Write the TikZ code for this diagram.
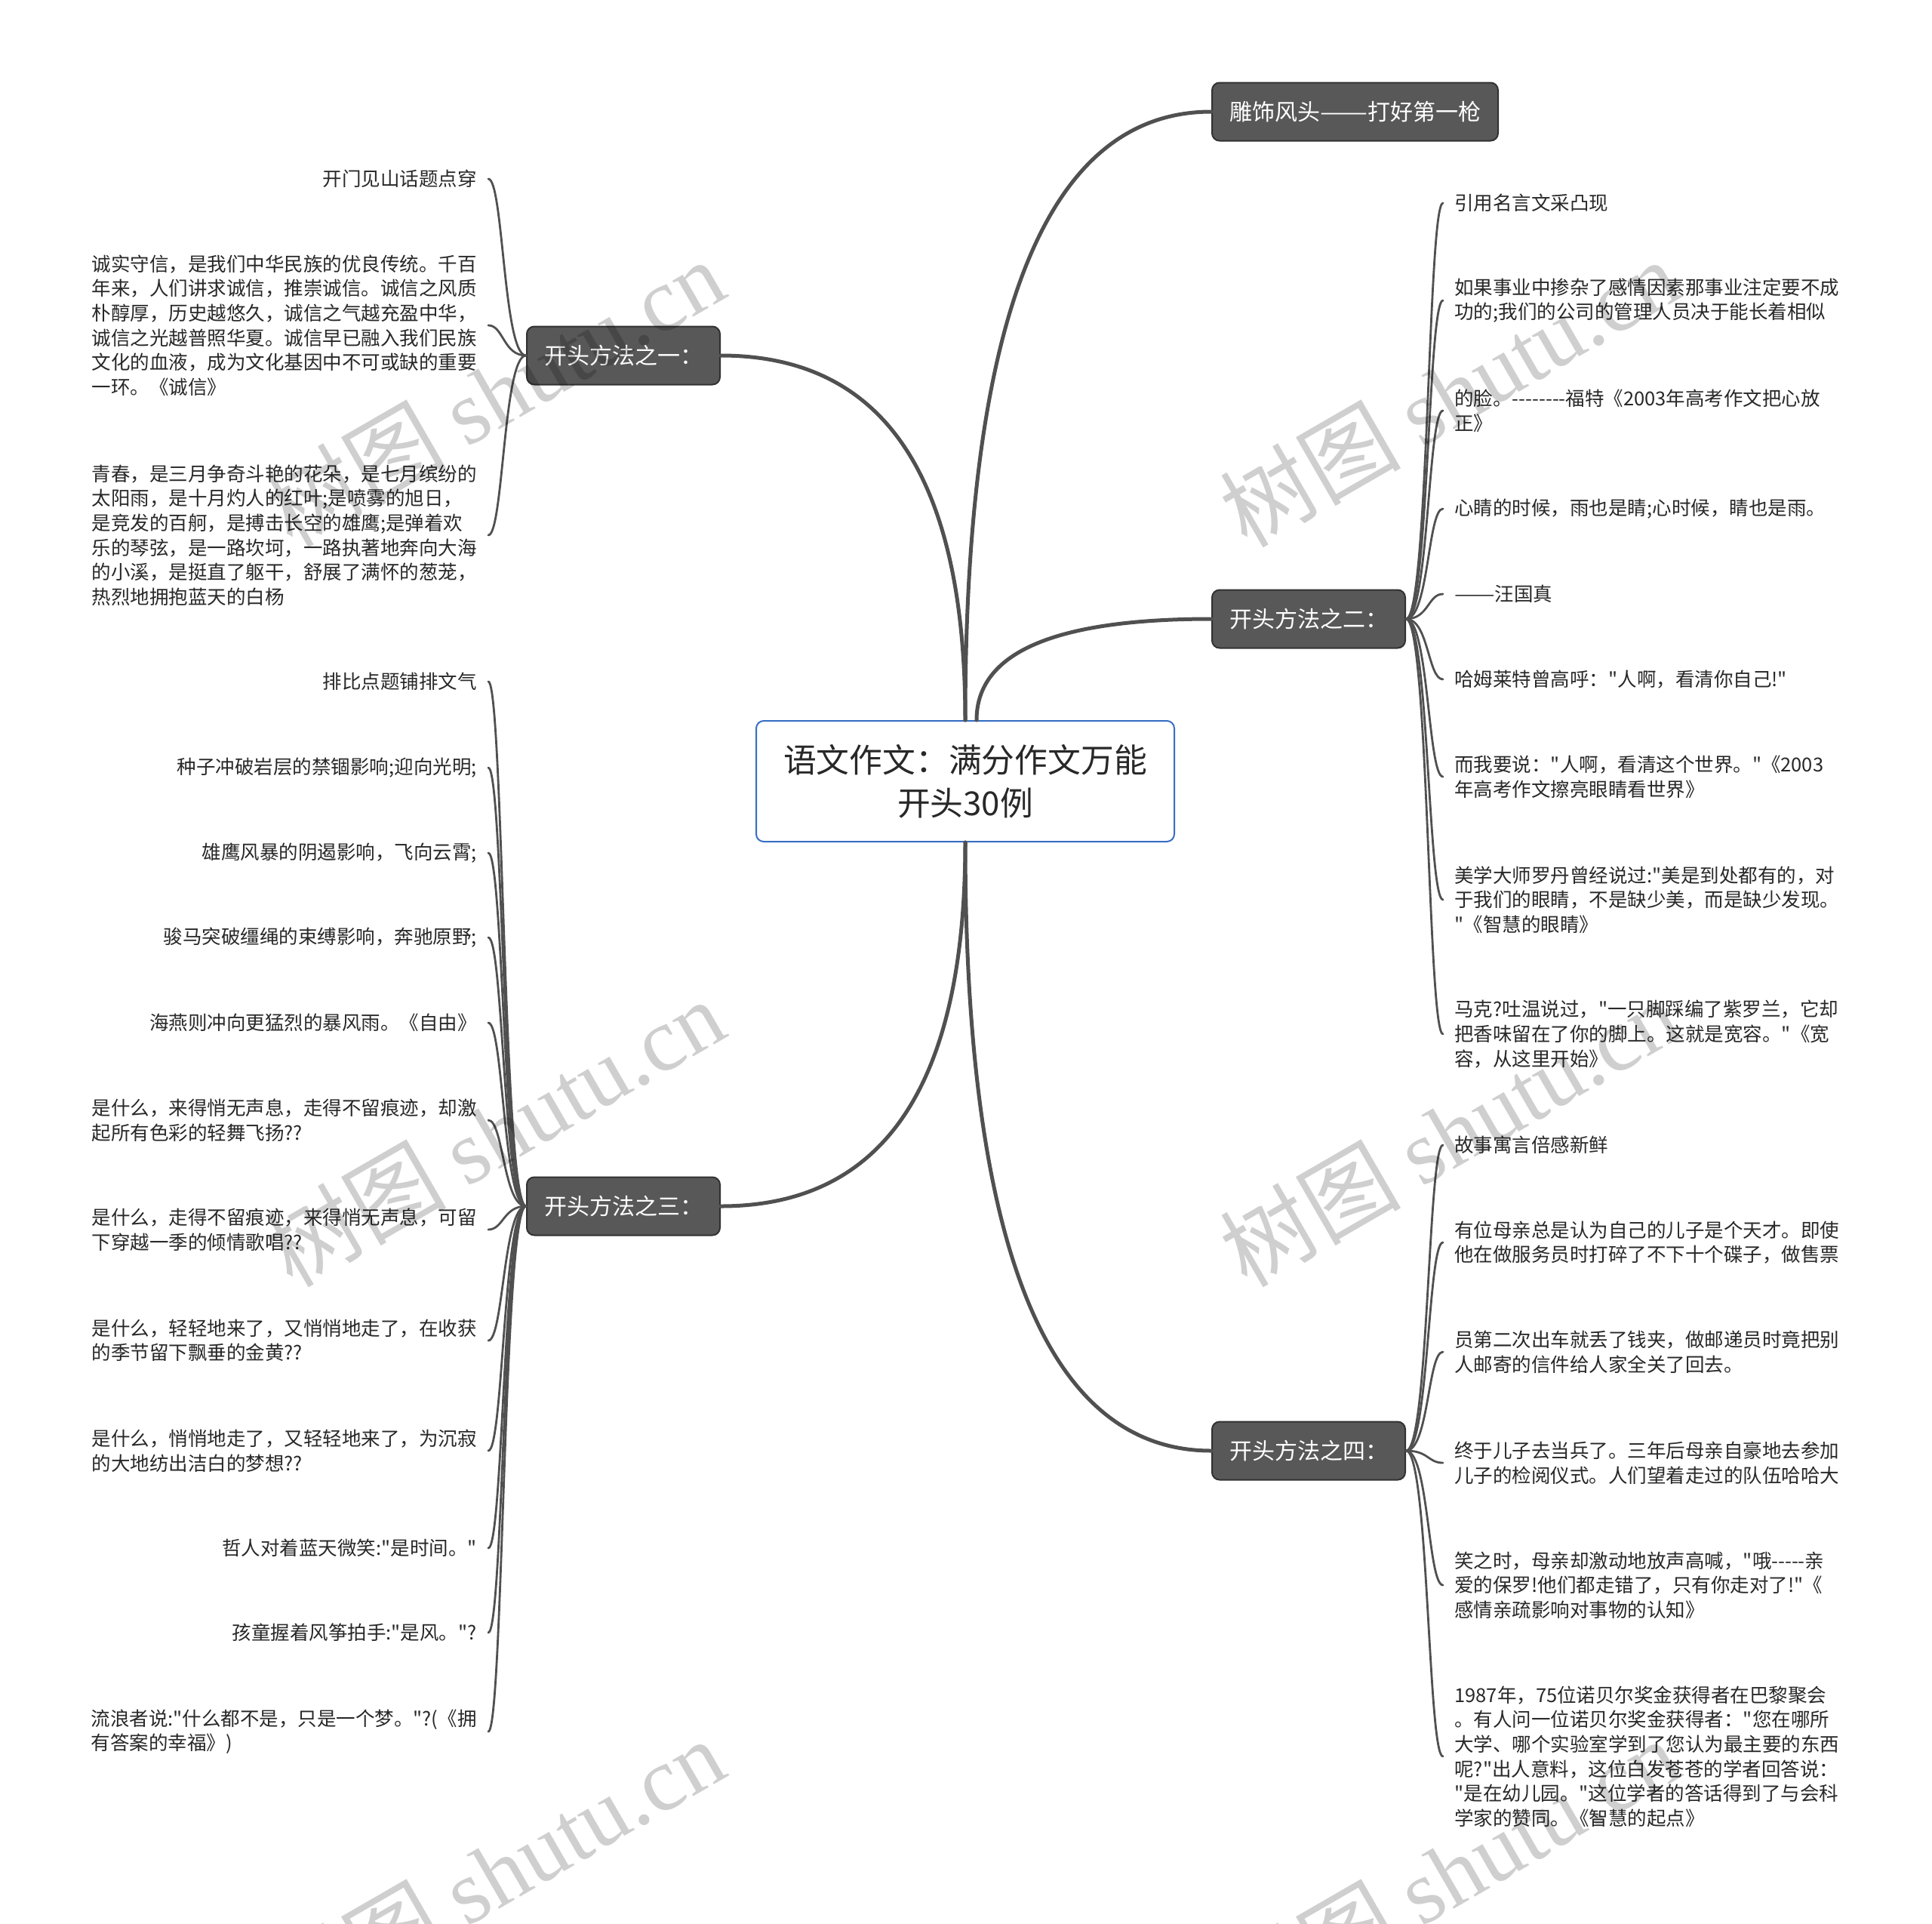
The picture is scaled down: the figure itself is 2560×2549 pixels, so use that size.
\documentclass[tikz,border=0pt]{standalone}
\usepackage{fontspec}
\newfontfamily\cjk{Noto Sans CJK SC}
\newfontfamily\wmfont{Liberation Serif}
\definecolor{qline}{RGB}{80,80,80}
\definecolor{qbox}{RGB}{88,88,88}
\definecolor{qedge}{RGB}{50,50,50}
\definecolor{qblue}{RGB}{55,110,195}
\definecolor{qtext}{RGB}{40,40,40}
\newcommand\cndash{\resizebox{2.1em}{\height}{——}}
\tikzset{
  root/.style={draw=qblue, line width=1pt, fill=white, rounded corners=5pt, text=qtext,
    font=\cjk\fontsize{21.9pt}{28.5pt}\selectfont, align=center,
    minimum width=277pt, minimum height=80pt},
  branch/.style={draw=qedge, line width=1pt, fill=qbox, rounded corners=5pt, text=white,
    font=\cjk\fontsize{15pt}{18pt}\selectfont, inner xsep=11.5pt, minimum height=38.5pt},
  leaf/.style={text=qtext, font=\cjk\fontsize{12.75pt}{16.3pt}\selectfont,
    align=left, inner xsep=7.5pt, inner ysep=1pt},
  limb/.style={draw=qline, line width=2.5pt, line cap=round},
  twig/.style={draw=qline, line width=1.4pt, line cap=round},
  wmark/.style={text=black, text opacity=0.19, rotate=30,
    font=\cjk\fontsize{60pt}{60pt}\selectfont}
}
\begin{document}
\begin{tikzpicture}[x=0.5pt, y=-0.5pt]
\fill[white] (0,0) rectangle (2560,2549);
\useasboundingbox (0,0) rectangle (2560,2549);

%centre and main branches
\node[root] (root) at (1279,1035) {语文作文：满分作文万能\\开头30例};
\node[branch, anchor=west] (head) at (1605,148) {雕饰风头\cndash 打好第一枪};
\node[branch, anchor=west] (way2) at (1605,820) {开头方法之二：};
\node[branch, anchor=west] (way4) at (1605,1922) {开头方法之四：};
\node[branch, anchor=east] (way1) at (955,471) {开头方法之一：};
\node[branch, anchor=east] (way3) at (955,1598) {开头方法之三：};

\draw[limb] (root.north) .. controls +(0,-538) and +(-217,0) .. (head.west);
\draw[limb] (root.north) .. controls +(0,-323) and +(216,0) .. (way1.east);
\draw[limb] ([xshift=7.5pt]root.north) .. controls +(0,-90) and +(-207,0) .. (way2.west);
\draw[limb] (root.south) .. controls +(0,322) and +(216,0) .. (way3.east);
\draw[limb] (root.south) .. controls +(0,538) and +(-217,0) .. (way4.west);

%right leaves
\foreach \yy/\txt [count=\i] in {
  269/{引用名言文采凸现},
  398/{如果事业中掺杂了感情因素那事业注定要不成\\功的;我们的公司的管理人员决于能长着相似},
  544/{的脸。--------福特《2003年高考作文把心放\\正》},
  674/{心睛的时候，雨也是睛;心时候，睛也是雨。},
  787/{\cndash 汪国真},
  900/{哈姆莱特曾高呼："人啊，看清你自己!"},
  1029/{而我要说："人啊，看清这个世界。"《2003\\年高考作文擦亮眼睛看世界》},
  1192/{美学大师罗丹曾经说过:"美是到处都有的，对\\于我们的眼睛，不是缺少美，而是缺少发现。\\"《智慧的眼睛》},
  1370/{马克?吐温说过，"一只脚踩编了紫罗兰，它却\\把香味留在了你的脚上。这就是宽容。"《宽\\容，从这里开始》}}{
  \node[leaf, anchor=west] (two\i) at (1912,\yy) {\txt};
  \draw[twig] (way2.east) .. controls +(30,0) and +(-20,0) .. (two\i.west);
}
\foreach \yy/\txt [count=\i] in {
  1517/{故事寓言倍感新鲜},
  1646/{有位母亲总是认为自己的儿子是个天才。即使\\他在做服务员时打碎了不下十个碟子，做售票},
  1791/{员第二次出车就丢了钱夹，做邮递员时竟把别\\人邮寄的信件给人家全关了回去。},
  1938/{终于儿子去当兵了。三年后母亲自豪地去参加\\儿子的检阅仪式。人们望着走过的队伍哈哈大},
  2100/{笑之时，母亲却激动地放声高喊，"哦-----亲\\爱的保罗!他们都走错了，只有你走对了!"《\\感情亲疏影响对事物的认知》},
  2327/{1987年，75位诺贝尔奖金获得者在巴黎聚会\\。有人问一位诺贝尔奖金获得者："您在哪所\\大学、哪个实验室学到了您认为最主要的东西\\呢?"出人意料，这位白发苍苍的学者回答说：\\"是在幼儿园。"这位学者的答话得到了与会科\\学家的赞同。《智慧的起点》}}{
  \node[leaf, anchor=west] (four\i) at (1912,\yy) {\txt};
  \draw[twig] (way4.east) .. controls +(30,0) and +(-20,0) .. (four\i.west);
}

%left leaves
\foreach \yy/\txt [count=\i] in {
  237/{开门见山话题点穿},
  431/{诚实守信，是我们中华民族的优良传统。千百\\年来，人们讲求诚信，推崇诚信。诚信之风质\\朴醇厚，历史越悠久，诚信之气越充盈中华，\\诚信之光越普照华夏。诚信早已融入我们民族\\文化的血液，成为文化基因中不可或缺的重要\\一环。《诚信》},
  709/{青春，是三月争奇斗艳的花朵，是七月缤纷的\\太阳雨，是十月灼人的红叶;是喷雾的旭日，\\是竞发的百舸，是搏击长空的雄鹰;是弹着欢\\乐的琴弦，是一路坎坷，一路执著地奔向大海\\的小溪，是挺直了躯干，舒展了满怀的葱茏，\\热烈地拥抱蓝天的白杨}}{
  \node[leaf, anchor=east] (one\i) at (647,\yy) {\txt};
  \draw[twig] (way1.west) .. controls +(-30,0) and +(20,0) .. (one\i.east);
}
\foreach \yy/\txt [count=\i] in {
  903/{排比点题铺排文气},
  1017/{种子冲破岩层的禁锢影响;迎向光明;},
  1130/{雄鹰风暴的阴遏影响，飞向云霄;},
  1242/{骏马突破缰绳的束缚影响，奔驰原野;},
  1355/{海燕则冲向更猛烈的暴风雨。《自由》},
  1484/{是什么，来得悄无声息，走得不留痕迹，却激\\起所有色彩的轻舞飞扬??},
  1629/{是什么，走得不留痕迹，来得悄无声息，可留\\下穿越一季的倾情歌唱??},
  1776/{是什么，轻轻地来了，又悄悄地走了，在收获\\的季节留下飘垂的金黄??},
  1922/{是什么，悄悄地走了，又轻轻地来了，为沉寂\\的大地纺出洁白的梦想??},
  2051/{哲人对着蓝天微笑:"是时间。"},
  2163/{孩童握着风筝拍手:"是风。"?},
  2294/{流浪者说:"什么都不是，只是一个梦。"?(《拥\\有答案的幸福》)}}{
  \node[leaf, anchor=east] (three\i) at (647,\yy) {\txt};
  \draw[twig] (way3.west) .. controls +(-30,0) and +(20,0) .. (three\i.east);
}

%watermarks
\foreach \wx/\wy [count=\i] in {655/520, 1920/520, 655/1500, 1920/1500, 655/2480, 1920/2480}{
  \node[wmark] (wm\i) at (\wx,\wy) {树图 {\wmfont shutu.cn}};
}
\end{tikzpicture}
\end{document}
